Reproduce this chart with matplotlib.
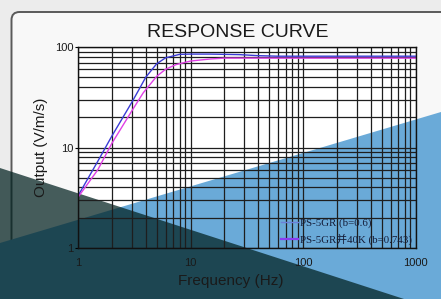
import matplotlib
matplotlib.use("Agg")
import matplotlib.pyplot as plt
from matplotlib.patches import Polygon, Rectangle, FancyBboxPatch

# response curve values
freq_a = [1, 1.5, 2, 3, 3.45, 4, 5, 6, 8, 10, 15, 20, 27, 40, 60, 100, 1000]
out_a = [3.3, 7.3, 13, 28, 37, 50, 68, 78, 84.5, 85, 85, 84.5, 84, 82, 81, 81, 81]

freq_b = [1, 1.5, 2, 3, 3.8, 5, 6, 7.4, 10, 15, 20, 30, 60, 100, 1000]
out_b = [3.2, 6.0, 11, 23, 35, 51, 60, 66.7, 72.5, 76, 77.5, 77.5, 77.5, 77.5, 77.5]

labels = ["PS-5GR (b=0.6)", "PS-5GR并40K (b=0.743)"]
x_ticks = [1, 10, 100, 1000]
y_ticks = [1, 10, 100]

W, H = 441, 299


def px(x, y):
    # pixel (from top-left) -> figure fraction
    return (x / W, 1 - y / H)


fig = plt.figure(figsize=(W / 100, H / 100), dpi=100)
fig.patch.set_facecolor("#ececec")

# rounded card behind everything
card = FancyBboxPatch((0.115, 0.02), 5.0, 2.85,
                      boxstyle="round,pad=0,rounding_size=0.08",
                      transform=fig.dpi_scale_trans, facecolor="#f8f8f8",
                      edgecolor="#5a5a5a", linewidth=1.4, zorder=-5)
fig.patches.append(card)

ax_l, ax_r, ax_t, ax_b = 78, 415.5, 47, 248
bl = px(ax_l, ax_b)
fig.patches.append(Rectangle(bl, (ax_r - ax_l) / W, (ax_b - ax_t) / H,
                             transform=fig.transFigure, facecolor="white",
                             edgecolor="none", zorder=-4))

# decorative overlays
fig.patches.append(Polygon([px(0, 243), px(441, 112), px(441, 299), px(0, 299)],
                           closed=True, transform=fig.transFigure,
                           facecolor="#6aaad8", edgecolor="none", zorder=-3))
fig.patches.append(Polygon([px(0, 168), px(441, 311), px(0, 320)],
                           closed=True, transform=fig.transFigure,
                           facecolor="#00201f", alpha=0.72, edgecolor="none",
                           zorder=-2))

ax = fig.add_axes([bl[0], bl[1], (ax_r - ax_l) / W, (ax_b - ax_t) / H])
ax.set_facecolor("none")
ax.set_xscale("log")
ax.set_yscale("log")
ax.set_xlim(1, 1000)
ax.set_ylim(1, 100)

ax.grid(True, which="both", color="#1e1e1e", linewidth=0.9)
ax.set_axisbelow(True)

la, = ax.plot(freq_a, out_a, color="#3b3bd6", linewidth=1.0, label=labels[0])
lb, = ax.plot(freq_b, out_b, color="#e040e6", linewidth=1.0, label=labels[1])

for s in ax.spines.values():
    s.set_color("#111111")
    s.set_linewidth(1.0)

ax.set_xticks(x_ticks)
ax.set_xticklabels([str(v) for v in x_ticks])
ax.set_yticks(y_ticks)
ax.set_yticklabels([str(v) for v in y_ticks])
ax.tick_params(axis="x", which="both", length=0, pad=7, labelsize=8,
               labelcolor="#1a1a1a")
ax.tick_params(axis="y", which="major", length=2, pad=1, labelsize=8,
               labelcolor="#1a1a1a")
ax.tick_params(axis="y", which="minor", length=0)
for t in ax.get_xticklabels() + ax.get_yticklabels():
    t.set_fontfamily("Liberation Sans")

ax.set_xlabel("Frequency (Hz)", fontsize=11, family="Liberation Sans",
              color="#1a1a1a")
ax.xaxis.set_label_coords((231 - ax_l) / (ax_r - ax_l), -0.13)
ax.set_ylabel("Output (V/m/s)", fontsize=11, family="Liberation Sans",
              color="#1a1a1a")
ax.yaxis.set_label_coords(-0.09, 0.5)

fig.text(238 / W, 1 - 37.3 / H, "RESPONSE CURVE", ha="center",
         va="baseline", fontsize=14, family="Liberation Sans",
         color="#1a1a1a")

leg = ax.legend(loc="lower right", borderaxespad=0, fancybox=False,
                framealpha=0, edgecolor="#222222", handlelength=1.6,
                handletextpad=0.2, borderpad=0.3, labelspacing=0.45,
                prop={"family": ["Liberation Serif", "Noto Sans CJK SC"],
                      "size": 7.8})
leg.get_frame().set_linewidth(1.0)
leg_colors = ["#6c7fd8", "#8a3cf0"]
leg_widths = [1.0, 1.6]
for ln, c, w in zip(leg.get_lines(), leg_colors, leg_widths):
    ln.set_color(c)
    ln.set_linewidth(w)
for t in leg.get_texts():
    t.set_color("#141c38")

fig.savefig("out.png", dpi=100)
